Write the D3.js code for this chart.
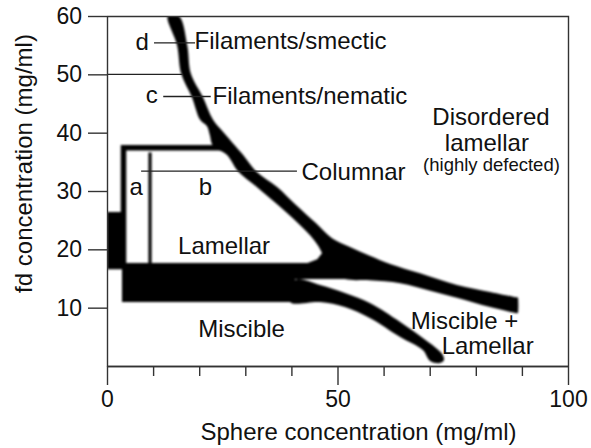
<!DOCTYPE html>
<html>
<head>
<meta charset="utf-8">
<script src="https://cdn.jsdelivr.net/npm/d3@7"></script>
<style>
  body { margin: 0; background: #fff; }
  svg { display: block; font-family: "Liberation Sans", Arial, Helvetica, sans-serif; }
</style>
</head>
<body>
<svg id="chart" width="591" height="448"></svg>
<script>
// Axis ticks
const xMajorTicks = [0, 50, 100];
const xMinorTicks = [10, 20, 30, 40, 60, 70, 80, 90];
const yTicks = [10, 20, 30, 40, 50, 60];

// Phase boundaries as outlines, points are [sphere mg/ml, fd mg/ml]
// Filament / lamellar boundary, running down into the right-hand branch
const filamentBoundary = [
  [15.6, 60], [17.4, 55.0], [18.2, 50.1], [20.8, 46.1], [23.0, 42.2], [25.2, 40.1],
  [27.3, 38.2], [29.5, 36.2], [32.3, 33.4], [36.9, 30.7], [41.0, 27.6], [45.3, 24.5],
  [48.8, 21.9], [52.7, 20.4], [57.0, 18.9], [61.4, 17.5], [67.9, 15.9], [75.9, 13.9],
  [83.1, 12.7], [88.3, 11.85], [89.1, 11.75], [89.2, 11.2], [89.2, 9.6], [89.1, 9.1], [88.3, 9.15],
  [83.1, 10.1], [75.9, 11.7], [70.1, 12.9], [63.6, 14.2], [57.0, 14.7], [51.6, 14.9],
  [47.3, 16.5], [46.6, 19.4], [44.9, 21.6], [41.4, 24.5], [37.1, 27.6], [32.5, 30.7],
  [28.4, 33.4], [26.0, 36.2], [23.0, 37.7], [22.3, 39.6], [21.7, 41.1], [20.2, 42.2],
  [18.4, 46.1], [16.1, 50.1], [15.2, 55.0], [13.2, 60]
];
// Lamellar / miscible coexistence band along the bottom of the lamellar region
const coexistenceBand = [
  [3.25, 17.66], [43.5, 17.66], [45.6, 18.3], [46.8, 19.5], [49.0, 19.0], [52.0, 15.6],
  [52.0, 14.9], [40.8, 14.9], [40.2, 10.97], [3.25, 10.97]
];
// Lower branch bounding the miscible region
const miscibleBranch = [
  [40.8, 14.74], [46.2, 13.89], [51.6, 12.51], [57.0, 10.80], [63.6, 7.54], [68.5, 4.80],
  [71.1, 3.26], [72.7, 2.06], [73.1, 1.03], [72.2, 0.51], [70.1, 0.86], [68.5, 2.74],
  [63.6, 4.97], [57.0, 8.23], [51.6, 10.11], [46.2, 10.97], [39.7, 10.97]
];
// Columnar region
const columnarBlock = [[0, 26.4], [3.9, 26.4], [3.9, 16.6], [0, 16.6]];
const columnarEdge = [[3.58, 17.3], [3.58, 37.4], [24.9, 37.4]];
const columnarDivider = [[9.33, 36.6], [9.33, 17.4]];
// Smectic / nematic boundary at fd = 50
const smecticLine = [[0, 50], [16.5, 50]];
// Leader lines for the sample labels
const leaderD = [[10.2, 55.4], [19.1, 55.4]];
const leaderC = [[12.2, 46.2], [22.5, 46.2]];
const leaderB = [[7.4, 33.4], [41.2, 33.4]];

// Region labels: text, sphere, fd, anchor
const regionLabels = [
  ["d", 6.2, 54.2, "start"],
  ["Filaments/smectic", 19.0, 54.3, "start"],
  ["c", 8.4, 45.1, "start"],
  ["Filaments/nematic", 22.9, 44.9, "start"],
  ["a", 4.9, 29.3, "start"],
  ["b", 19.9, 29.3, "start"],
  ["Columnar", 42.2, 31.9, "start"],
  ["Disordered", 83.3, 41.3, "middle"],
  ["lamellar", 82.4, 36.8, "middle"],
  ["Lamellar", 25.4, 19.2, "middle"],
  ["Miscible", 29.2, 5.0, "middle"],
  ["Miscible +", 65.9, 6.3, "start"],
  ["Lamellar", 72.6, 2.1, "start"]
];
const smallLabels = [["(highly defected)", 83.4, 33.4, "middle"]];

const xTitle = "Sphere concentration (mg/ml)";
const yTitle = "fd concentration (mg/ml)";

const svg = d3.select("#chart");
const x = d3.scaleLinear().domain([0, 100]).range([107, 568]);
const y = d3.scaleLinear().domain([0, 60]).range([366, 16]);

const ink = "#111";
const axisInk = "#333";

// Clip to plot area
svg.append("defs").append("clipPath").attr("id", "plotClip")
  .append("rect").attr("x", x(0)).attr("y", y(60))
  .attr("width", x(100) - x(0)).attr("height", y(0) - y(60));

const soft = svg.select("defs").append("filter").attr("id", "soft")
  .attr("x", "-5%").attr("y", "-5%").attr("width", "110%").attr("height", "110%");
soft.append("feGaussianBlur").attr("stdDeviation", 0.8);

const plot = svg.append("g").attr("clip-path", "url(#plotClip)");
const bands = plot.append("g").attr("filter", "url(#soft)");

const smooth = d3.line().x(d => x(d[0])).y(d => y(d[1])).curve(d3.curveCatmullRomClosed.alpha(0.5));
const straight = d3.line().x(d => x(d[0])).y(d => y(d[1])).curve(d3.curveLinearClosed);
const open = d3.line().x(d => x(d[0])).y(d => y(d[1]));

bands.append("path").attr("d", straight(coexistenceBand)).attr("fill", "#000");
bands.append("path").attr("d", smooth(miscibleBranch)).attr("fill", "#000");
bands.append("path").attr("d", smooth(filamentBoundary)).attr("fill", "#000");
bands.append("path").attr("d", straight(columnarBlock)).attr("fill", "#000");
bands.append("path").attr("d", open(columnarEdge))
  .attr("fill", "none").attr("stroke", "#000").attr("stroke-width", 5.5)
  .attr("stroke-linejoin", "miter").attr("stroke-linecap", "square");
bands.append("path").attr("d", open(columnarDivider))
  .attr("fill", "none").attr("stroke", "#000").attr("stroke-width", 3.2);

// Thin boundary and leader lines
[smecticLine, leaderD, leaderC, leaderB].forEach(pts => {
  plot.append("path").attr("d", open(pts))
    .attr("fill", "none").attr("stroke", "#222").attr("stroke-width", 1.4);
});

// Axes
const yAxis = d3.axisLeft(y).tickValues(yTicks).tickSize(19).tickPadding(6).tickSizeOuter(0);
const xMinor = d3.axisBottom(x).tickValues(xMinorTicks).tickSize(10).tickSizeOuter(0).tickFormat("");
const xMajor = d3.axisBottom(x).tickValues(xMajorTicks).tickSize(19).tickPadding(6).tickSizeOuter(0);

const gy = svg.append("g").attr("transform", `translate(${x(0)},0)`).call(yAxis);
const gxm = svg.append("g").attr("transform", `translate(0,${y(0)})`).call(xMinor);
const gx = svg.append("g").attr("transform", `translate(0,${y(0)})`).call(xMajor);
[gy, gxm, gx].forEach(g => {
  g.selectAll("path, line").attr("stroke", axisInk).attr("stroke-width", 1.4);
  g.selectAll("text").attr("fill", ink).style("font-size", "23px")
    .style("font-family", '"Liberation Sans", Arial, Helvetica, sans-serif');
});

// Frame: top and right edges
svg.append("path")
  .attr("d", `M${x(0)},${y(60) + 0.5}H${x(100) + 0.5}V${y(0)}`)
  .attr("fill", "none").attr("stroke", axisInk).attr("stroke-width", 1.4);

// Region labels
regionLabels.forEach(([t, sx, fy, anchor]) => {
  svg.append("text").attr("x", x(sx)).attr("y", y(fy))
    .attr("text-anchor", anchor).attr("fill", ink)
    .style("font-size", "24px").text(t);
});
smallLabels.forEach(([t, sx, fy, anchor]) => {
  svg.append("text").attr("x", x(sx)).attr("y", y(fy))
    .attr("text-anchor", anchor).attr("fill", ink)
    .style("font-size", "18.5px").text(t);
});

// Axis titles
svg.append("text").attr("x", 358.5).attr("y", 440)
  .attr("text-anchor", "middle").attr("fill", ink).style("font-size", "24px").text(xTitle);
svg.append("text").attr("transform", "translate(32,163.5) rotate(-90)")
  .attr("text-anchor", "middle").attr("fill", ink).style("font-size", "24px").text(yTitle);
</script>
</body>
</html>
